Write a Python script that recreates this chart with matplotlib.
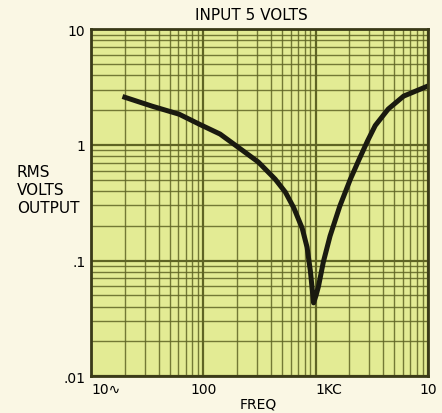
import matplotlib

matplotlib.use('Agg')

import numpy as np
import matplotlib.pyplot as plt
from matplotlib.ticker import LogLocator, NullFormatter, FixedLocator

plt.rcParams['font.family'] = ['DejaVu Sans']

# response curve (Hz, RMS volts)
freq = [20, 35, 61, 92, 141, 215, 309, 436, 538, 640, 760, 840, 900, 960, 1010, 1062, 1172, 1346, 1643, 2043, 2443, 2900, 3400, 4436, 6085, 9800]
volts = [2.58, 2.16, 1.84, 1.51, 1.24, 0.92, 0.71, 0.506, 0.39, 0.285, 0.19, 0.13, 0.08, 0.043, 0.05, 0.06, 0.097, 0.163, 0.295, 0.506, 0.75, 1.08, 1.47, 2.04, 2.64, 3.2]

xticks = [10, 100, 1000, 10000]
xlabels = ['10\u223f', '100', '1KC', '10']
yticks = [0.01, 0.1, 1, 10]
ylabels = ['.01', '.1', '1', '10']

paper = '#faf7e4'
face = '#e3eb94'
gridc = '#5f6424'

fig = plt.figure(figsize=(4.42, 4.14), dpi=100, facecolor=paper)
ax = fig.add_axes([0.206, 0.089, 0.762, 0.838])
ax.set_facecolor(face)
ax.set_xscale('log')
ax.set_yscale('log')
ax.set_xlim(10, 10000)
ax.set_ylim(0.01, 10)

ax.xaxis.set_minor_locator(LogLocator(base=10, subs=np.arange(2, 10)))
ax.yaxis.set_minor_locator(LogLocator(base=10, subs=np.arange(2, 10)))
ax.xaxis.set_minor_formatter(NullFormatter())
ax.yaxis.set_minor_formatter(NullFormatter())
ax.grid(which='major', color=gridc, lw=1.6)
ax.grid(which='minor', color=gridc, lw=1.0, alpha=0.85)
ax.set_axisbelow(True)

ax.xaxis.set_major_locator(FixedLocator(xticks))
ax.yaxis.set_major_locator(FixedLocator(yticks))
ax.set_xticklabels(xlabels, fontsize=10)
ax.set_yticklabels(ylabels, fontsize=10)
ax.tick_params(which='both', length=0, pad=4)
labs = ax.get_xticklabels()
labs[0].set_ha('left')
labs[2].set_ha('left')

for s in ax.spines.values():
    s.set_color('#3a3a18')
    s.set_linewidth(2)

ax.plot(freq, volts, color='#1a1a10', lw=3.6, solid_joinstyle='round')

fig.text(0.568, 0.963, 'INPUT 5 VOLTS', ha='center', va='center', fontsize=11)
fig.text(0.038, 0.541, 'RMS\nVOLTS\nOUTPUT', ha='left', va='center', fontsize=11, linespacing=1.25)
fig.text(0.584, 0.022, 'FREQ', ha='center', va='center', fontsize=10)

plt.savefig('out.png', dpi=100, facecolor=paper)
